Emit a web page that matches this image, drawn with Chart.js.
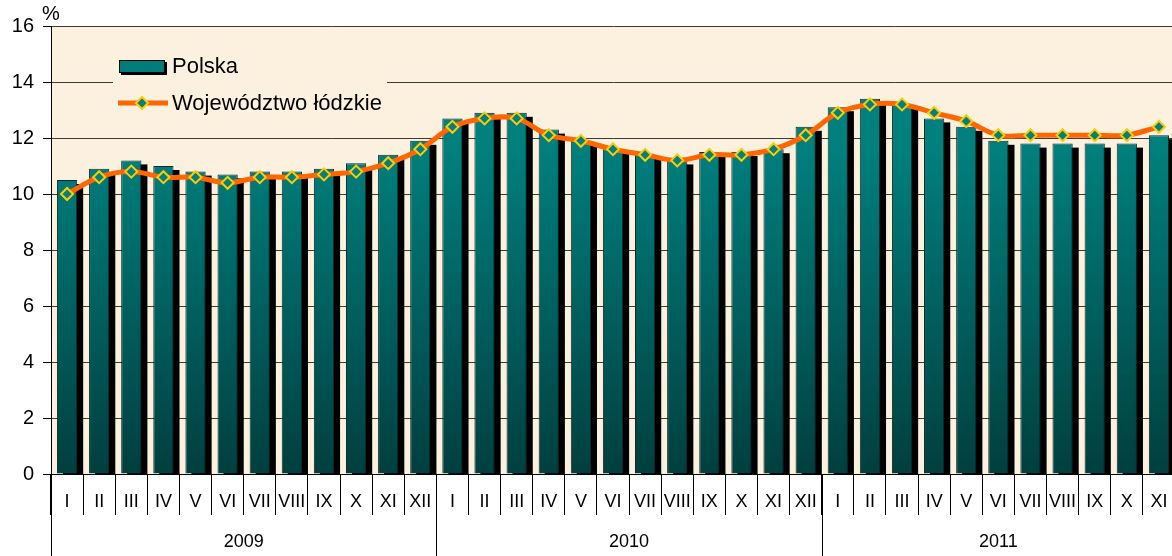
<!DOCTYPE html>
<html>
<head>
<meta charset="utf-8">
<script src="https://cdn.jsdelivr.net/npm/chart.js@4/dist/chart.umd.min.js"></script>
<style>
    html, body { margin: 0; padding: 0; background: #fff; overflow: hidden; }
    canvas { display: block; }
</style>
</head>
<body>
<canvas id="chart" width="1175" height="556"></canvas>
<script>
// data --------------------------------------------------------------------
const months = ['I', 'II', 'III', 'IV', 'V', 'VI', 'VII', 'VIII', 'IX', 'X', 'XI', 'XII'];
const years = ['2009', '2010', '2011'];
const monthsPerYear = [12, 12, 11];
const yTicks = [0, 2, 4, 6, 8, 10, 12, 14, 16];

// stopa bezrobocia - Polska
const polska = [
    10.5, 10.9, 11.2, 11.0, 10.8, 10.7, 10.8, 10.8, 10.9, 11.1, 11.4, 11.9,
    12.7, 12.9, 12.9, 12.3, 11.9, 11.6, 11.4, 11.2, 11.5, 11.5, 11.6, 12.4,
    13.1, 13.4, 13.2, 12.7, 12.4, 11.9, 11.8, 11.8, 11.8, 11.8, 12.1
];
// stopa bezrobocia - województwo łódzkie
const lodzkie = [
    10.0, 10.6, 10.8, 10.6, 10.6, 10.4, 10.6, 10.6, 10.7, 10.8, 11.1, 11.6,
    12.4, 12.7, 12.7, 12.1, 11.9, 11.6, 11.4, 11.2, 11.4, 11.4, 11.6, 12.1,
    12.9, 13.2, 13.2, 12.9, 12.6, 12.1, 12.1, 12.1, 12.1, 12.1, 12.4
];

// month labels for every category
const labels = [];
monthsPerYear.forEach(function (n) {
    for (let i = 0; i < n; i++) labels.push(months[i]);
});

const FONT = '"Liberation Sans", Arial, sans-serif';
const PLOT_BG = '#fcf1de';

// plugins ------------------------------------------------------------------

// cream background of the plot area
const plotBackground = {
    id: 'plotBackground',
    beforeDraw: function (chart) {
        const ca = chart.chartArea;
        const c = chart.ctx;
        c.save();
        c.fillStyle = PLOT_BG;
        c.fillRect(ca.left, ca.top, ca.right - ca.left, ca.bottom - ca.top);
        c.restore();
    }
};

// black shadow behind every bar
const barShadow = {
    id: 'barShadow',
    beforeDatasetDraw: function (chart, args) {
        if (args.index !== 0) return;
        const ca = chart.chartArea;
        const c = chart.ctx;
        c.save();
        c.beginPath();
        c.rect(ca.left, ca.top, ca.right - ca.left, ca.bottom - ca.top);
        c.clip();
        c.fillStyle = '#000';
        args.meta.data.forEach(function (bar) {
            const p = bar.getProps(['x', 'y', 'base', 'width'], true);
            c.fillRect(p.x - p.width / 2 + 6, p.y + 4, p.width, p.base - p.y);
        });
        c.restore();
    }
};

// legend inside the plot area
const legendBox = {
    id: 'legendBox',
    beforeDatasetsDraw: function (chart) {
        const c = chart.ctx;
        c.save();
        c.fillStyle = PLOT_BG;
        c.fillRect(113, 44, 274, 80);

        // Polska swatch
        c.fillStyle = '#000';
        c.fillRect(121, 62, 46, 13);
        c.fillStyle = '#007d7b';
        c.fillRect(119, 60, 46, 13);
        c.strokeStyle = '#000';
        c.lineWidth = 1;
        c.strokeRect(119.5, 60.5, 45, 12);

        // line swatch
        c.strokeStyle = '#ff6600';
        c.lineWidth = 5;
        c.beginPath();
        c.moveTo(118, 103);
        c.lineTo(168, 103);
        c.stroke();
        c.beginPath();
        c.moveTo(142, 97);
        c.lineTo(148, 103);
        c.lineTo(142, 109);
        c.lineTo(136, 103);
        c.closePath();
        c.fillStyle = '#008080';
        c.fill();
        c.strokeStyle = '#ffcc00';
        c.lineWidth = 2;
        c.stroke();

        c.fillStyle = '#000';
        c.font = '22px ' + FONT;
        c.textBaseline = 'middle';
        c.textAlign = 'left';
        c.fillText('Polska', 172, 67);
        c.fillText('Województwo łódzkie', 172, 104);
        c.restore();
    }
};

// year row under the month labels, and the % unit
const axisExtras = {
    id: 'axisExtras',
    afterDraw: function (chart) {
        const x = chart.scales.x;
        const ca = chart.chartArea;
        const c = chart.ctx;
        c.save();
        c.strokeStyle = '#000';
        c.lineWidth = 1;
        const step = x.getPixelForValue(1) - x.getPixelForValue(0);
        let start = 0;
        monthsPerYear.forEach(function (n, i) {
            const left = x.getPixelForValue(start) - step / 2;
            const right = x.getPixelForValue(start + n - 1) + step / 2;
            [left, right].forEach(function (px) {
                const xx = Math.round(px) + 0.5;
                c.beginPath();
                c.moveTo(xx, ca.bottom);
                c.lineTo(xx, chart.height);
                c.stroke();
            });
            c.fillStyle = '#000';
            c.font = '18px ' + FONT;
            c.textAlign = 'center';
            c.textBaseline = 'middle';
            c.fillText(years[i], (left + right) / 2, 542);
            start += n;
        });
        c.font = '20px ' + FONT;
        c.textAlign = 'center';
        c.textBaseline = 'middle';
        c.fillText('%', ca.left, 14);
        c.restore();
    }
};

// chart ----------------------------------------------------------------------
const ctx = document.getElementById('chart').getContext('2d');

new Chart(ctx, {
    data: {
        labels: labels,
        datasets: [{
            type: 'bar',
            label: 'Polska',
            data: polska,
            order: 2,
            backgroundColor: function (context) {
                const ca = context.chart.chartArea;
                if (!ca) return '#008080';
                const g = context.chart.ctx.createLinearGradient(0, ca.top, 0, ca.bottom);
                g.addColorStop(0, '#008381');
                g.addColorStop(0.28, '#007f7d');
                g.addColorStop(1, '#003f3e');
                return g;
            },
            borderColor: '#0b2a29',
            borderWidth: 1,
            barPercentage: 0.63,
            categoryPercentage: 1
        }, {
            type: 'line',
            label: 'Województwo łódzkie',
            data: lodzkie,
            order: 1,
            borderColor: '#ff6600',
            borderWidth: 5,
            tension: 0.35,
            pointStyle: 'rectRot',
            pointRadius: 6,
            pointBackgroundColor: '#008080',
            pointBorderColor: '#ffcc00',
            pointBorderWidth: 2
        }]
    },
    options: {
        responsive: false,
        animation: false,
        layout: { autoPadding: false, padding: { top: 26, right: 0, bottom: 0, left: 0 } },
        plugins: {
            legend: { display: false },
            tooltip: { enabled: false }
        },
        scales: {
            x: {
                offset: true,
                afterFit: function (scale) { scale.height = 82; },
                border: { color: '#000', width: 1 },
                grid: {
                    offset: true,
                    drawOnChartArea: false,
                    drawTicks: true,
                    tickLength: 41,
                    color: '#000'
                },
                ticks: {
                    color: '#000',
                    font: { family: FONT, size: 18 },
                    padding: -24,
                    maxRotation: 0,
                    autoSkip: false
                }
            },
            y: {
                min: 0,
                max: 16,
                afterFit: function (scale) { scale.width = 51; },
                afterBuildTicks: function (scale) {
                    scale.ticks = yTicks.map(function (v) { return { value: v }; });
                },
                border: { color: '#000', width: 1 },
                grid: {
                    color: '#3a3a3a',
                    tickColor: '#000',
                    tickLength: 8
                },
                ticks: {
                    color: '#000',
                    font: { family: FONT, size: 20 },
                    padding: 9
                }
            }
        }
    },
    plugins: [plotBackground, barShadow, legendBox, axisExtras]
});
</script>
</body>
</html>
